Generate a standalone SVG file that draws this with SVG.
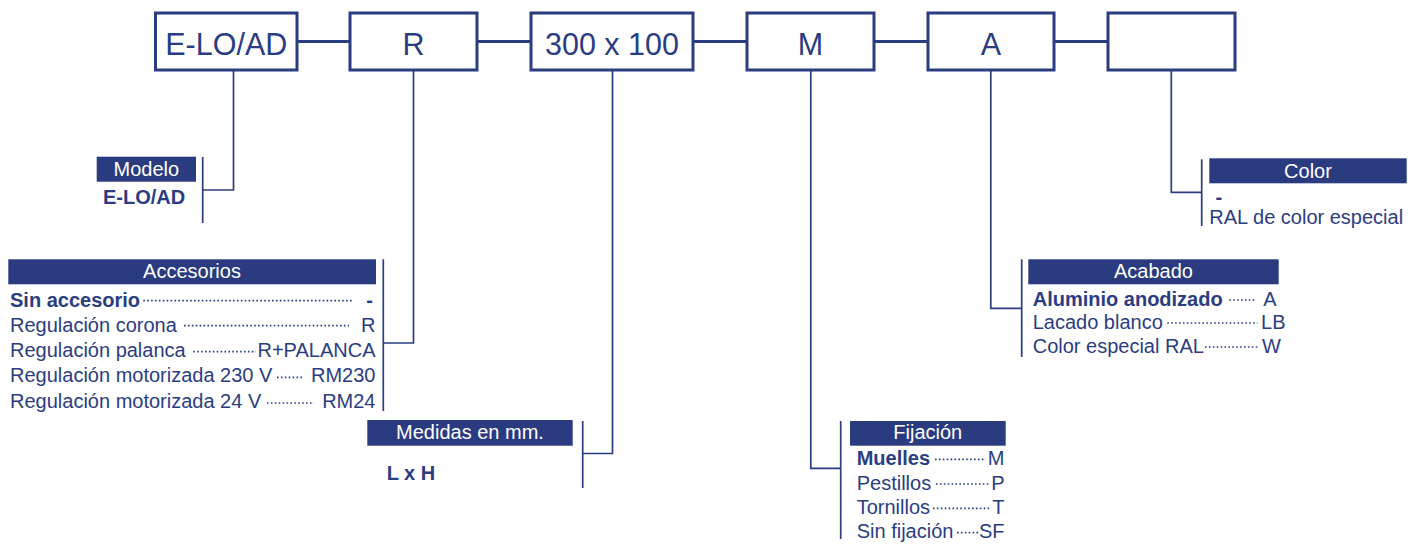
<svg xmlns="http://www.w3.org/2000/svg" width="1420" height="545" viewBox="0 0 1420 545">
<style>
  .box { fill: #ffffff; stroke: #2b3d81; stroke-width: 3; }
  .btxt { font-family: "Liberation Sans", Arial, sans-serif; font-size: 30.5px; fill: #2b3d81; text-anchor: middle; }
  .link { stroke: #2b3d81; stroke-width: 3; fill: none; }
  .thin { stroke: #2b3d81; stroke-width: 1.7; fill: none; }
  .hdr { fill: #2a3b80; }
  .htxt { font-family: "Liberation Sans", Arial, sans-serif; font-size: 20px; fill: #ffffff; text-anchor: middle; }
  .t { font-family: "Liberation Sans", Arial, sans-serif; font-size: 20px; fill: #2b3d81; }
  .b { font-weight: bold; }
  .r { text-anchor: end; }
  .dots { stroke: #2b3d81; stroke-width: 1.7; stroke-dasharray: 1.6 2.3; fill: none; }
</style>
<rect width="1420" height="545" fill="#ffffff"/>

<g id="connectors">
  <line class="link" x1="297" y1="41.5" x2="350" y2="41.5"/>
  <line class="link" x1="477" y1="41.5" x2="531" y2="41.5"/>
  <line class="link" x1="693" y1="41.5" x2="747" y2="41.5"/>
  <line class="link" x1="874" y1="41.5" x2="928" y2="41.5"/>
  <line class="link" x1="1054" y1="41.5" x2="1108" y2="41.5"/>
  <polyline class="thin" points="233.5,70 233.5,190 202.7,190"/>
  <polyline class="thin" points="413.5,70 413.5,343 383.3,343"/>
  <polyline class="thin" points="612.5,70 612.5,453.5 582.7,453.5"/>
  <polyline class="thin" points="810.8,70 810.8,468.3 840.7,468.3"/>
  <polyline class="thin" points="990.8,70 990.8,308.3 1021.7,308.3"/>
  <polyline class="thin" points="1171.3,70 1171.3,192.3 1201.7,192.3"/>
</g>

<g id="box-modelo">
  <rect class="box" x="155.5" y="13" width="141.5" height="57"/>
  <text class="btxt" x="226.3" y="55">E-LO/AD</text>
</g>
<g id="box-accesorio">
  <rect class="box" x="350" y="13" width="127" height="57"/>
  <text class="btxt" x="413.5" y="55">R</text>
</g>
<g id="box-medidas">
  <rect class="box" x="531" y="13" width="162" height="57"/>
  <text class="btxt" x="612" y="55">300 x 100</text>
</g>
<g id="box-fijacion">
  <rect class="box" x="747" y="13" width="127" height="57"/>
  <text class="btxt" x="810.5" y="55">M</text>
</g>
<g id="box-acabado">
  <rect class="box" x="928" y="13" width="126" height="57"/>
  <text class="btxt" x="991" y="55">A</text>
</g>
<g id="box-color">
  <rect class="box" x="1108" y="13" width="127" height="57"/>
</g>

<g id="sec-modelo">
  <rect class="hdr" x="96.7" y="156.7" width="99.3" height="25"/>
  <text class="htxt" x="146.3" y="176">Modelo</text>
  <line class="thin" x1="202.7" y1="157" x2="202.7" y2="223"/>
  <text class="t b" x="103" y="204">E-LO/AD</text>
</g>

<g id="sec-accesorios">
  <rect class="hdr" x="8.3" y="259.3" width="367.7" height="25"/>
  <text class="htxt" x="192" y="278.3">Accesorios</text>
  <line class="thin" x1="383.3" y1="259.3" x2="383.3" y2="411"/>
  <text class="t b" x="10" y="306.7">Sin accesorio</text>
  <line class="dots" x1="143.3" y1="300.7" x2="352" y2="300.7"/>
  <text class="t b r" x="373" y="306.7">-</text>
  <text class="t" x="10" y="331.7">Regulación corona</text>
  <line class="dots" x1="184" y1="325.7" x2="349" y2="325.7"/>
  <text class="t r" x="375.5" y="331.7">R</text>
  <text class="t" x="10" y="356.7">Regulación palanca</text>
  <line class="dots" x1="193.3" y1="351.7" x2="256" y2="351.7"/>
  <text class="t r" x="375.5" y="356.7">R+PALANCA</text>
  <text class="t" x="10" y="382.3">Regulación motorizada 230 V</text>
  <line class="dots" x1="277" y1="377.3" x2="304" y2="377.3"/>
  <text class="t r" x="375.5" y="382.3">RM230</text>
  <text class="t" x="10" y="408">Regulación motorizada 24 V</text>
  <line class="dots" x1="267" y1="403" x2="314" y2="403"/>
  <text class="t r" x="375.5" y="408">RM24</text>
</g>

<g id="sec-medidas">
  <rect class="hdr" x="367.3" y="420" width="205.4" height="25.7"/>
  <text class="htxt" x="470" y="439.3">Medidas en mm.</text>
  <line class="thin" x1="582.7" y1="421" x2="582.7" y2="488"/>
  <text class="t b" x="386.7" y="480">L x H</text>
</g>

<g id="sec-fijacion">
  <rect class="hdr" x="850" y="421" width="155.7" height="24.7"/>
  <text class="htxt" x="927.8" y="439">Fijación</text>
  <line class="thin" x1="840.7" y1="421" x2="840.7" y2="539"/>
  <text class="t b" x="856.7" y="465">Muelles</text>
  <line class="dots" x1="935" y1="459.3" x2="986" y2="459.3"/>
  <text class="t r" x="1004.5" y="465">M</text>
  <text class="t" x="856.7" y="489.5">Pestillos</text>
  <line class="dots" x1="936" y1="484" x2="990" y2="484"/>
  <text class="t r" x="1004.5" y="489.5">P</text>
  <text class="t" x="856.7" y="513.5">Tornillos</text>
  <line class="dots" x1="933" y1="508.3" x2="990" y2="508.3"/>
  <text class="t r" x="1004.5" y="513.5">T</text>
  <text class="t" x="856.7" y="538">Sin fijación</text>
  <line class="dots" x1="957" y1="532.7" x2="979" y2="532.7"/>
  <text class="t r" x="1004.5" y="538">SF</text>
</g>

<g id="sec-acabado">
  <rect class="hdr" x="1028.3" y="259.3" width="250.4" height="25"/>
  <text class="htxt" x="1153.5" y="278.3">Acabado</text>
  <line class="thin" x1="1021.7" y1="259.3" x2="1021.7" y2="357"/>
  <text class="t b" x="1032.7" y="305.7">Aluminio anodizado</text>
  <line class="dots" x1="1229.3" y1="300" x2="1255" y2="300"/>
  <text class="t r" x="1276.5" y="305.7">A</text>
  <text class="t" x="1032.7" y="329">Lacado blanco</text>
  <line class="dots" x1="1167.3" y1="323" x2="1257.5" y2="323"/>
  <text class="t r" x="1285.5" y="329">LB</text>
  <text class="t" x="1032.7" y="353">Color especial RAL</text>
  <line class="dots" x1="1205" y1="347" x2="1258" y2="347"/>
  <text class="t r" x="1281" y="353">W</text>
</g>

<g id="sec-color">
  <rect class="hdr" x="1209.3" y="158.3" width="197.4" height="25"/>
  <text class="htxt" x="1308" y="178">Color</text>
  <line class="thin" x1="1201.7" y1="159.3" x2="1201.7" y2="226"/>
  <text class="t b" x="1215.5" y="204">-</text>
  <text class="t" x="1209.3" y="223.5">RAL de color especial</text>
</g>
</svg>
